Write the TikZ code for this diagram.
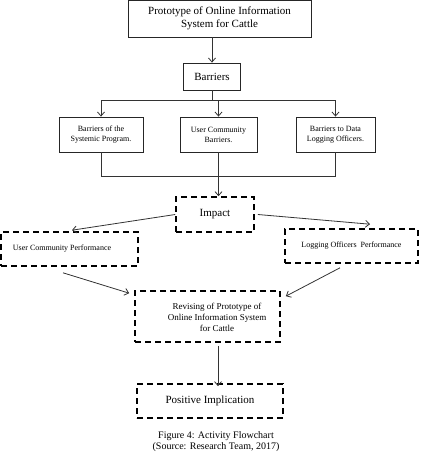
\documentclass[tikz,border=0pt]{standalone}
\usepackage{fontspec}
\setmainfont{Liberation Serif}
\usetikzlibrary{arrows.meta}
\begin{document}
\begin{tikzpicture}[x=1pt,y=-1pt,
  solidbox/.style={draw=black!85, line width=0.8pt, inner sep=0pt, align=center},
  dashbox/.style={draw=black, line width=1.6pt, dash pattern=on 6pt off 4pt, inner sep=0pt, align=center},
  plain/.style={inner sep=0pt, align=center},
  conn/.style={draw=black!80, line width=0.8pt},
  arr/.style={conn, -{Straight Barb[length=4pt,width=7pt]}},
  big/.style={font=\fontsize{11}{13}\selectfont},
  small/.style={font=\fontsize{8}{10}\selectfont},
  mid/.style={font=\fontsize{9}{10.7}\selectfont}]
\useasboundingbox (0,0) rectangle (424,460);

\node[solidbox, big, minimum width=183pt, minimum height=36.5pt] (top) at (219.5,18.75) {Prototype of Online Information\\System for Cattle};
\node[solidbox, big, minimum width=57pt, minimum height=27pt] (bar) at (212,76.5) {Barriers};
\coordinate (hl) at (212,100);
\node[solidbox, small, minimum width=84pt, minimum height=35pt] (b1) at (101,134.5) {Barriers of the\\Systemic Program.};
\node[solidbox, small, minimum width=77pt, minimum height=35pt] (b2) at (218.5,134.5) {User Community\\Barriers.};
\node[solidbox, small, minimum width=79pt, minimum height=35pt] (b3) at (335.5,134.5) {Barriers to Data\\Logging Officers.};

\node[dashbox, big, minimum width=78pt, minimum height=35pt] (imp) at (215,214.5) {Impact};
\node[dashbox, minimum width=137pt, minimum height=34pt] (ucp) at (69.5,249) {};
\node[plain, small] (ucpt) at (62,249) {User Community Performance};
\node[dashbox, small, minimum width=133pt, minimum height=34pt] (lop) at (351.5,246) {Logging Officers\ \ Performance};
\node[dashbox, minimum width=145pt, minimum height=51pt] (rev) at (207.5,316.5) {};
\node[plain, mid] (revt) at (217,317.5) {Revising of Prototype of\\Online Information System\\for Cattle};
\node[dashbox, big, minimum width=146pt, minimum height=34pt] (pos) at (210,401) {Positive Implication};
\node[plain, font=\fontsize{10}{11}\selectfont] (cap) at (216,441.5) {Figure 4: Activity Flowchart\\(Source: Research Team, 2017)};

\draw[arr] (top.south -| bar.north) -- (bar.north);
\draw[conn] (bar.south) -- (hl);
\draw[conn] (hl -| b1.north) -- (hl -| b3.north);
\draw[arr] (hl -| b1.north) -- (b1.north);
\draw[arr] (hl -| b2.north) -- (b2.north);
\draw[arr] (hl -| b3.north) -- (b3.north);
\draw[conn] (b1.south) -- ++(0,24) -| (b3.south);
\draw[arr] (b2.south) -- (b2.south |- imp.north);
\draw[arr] (imp.west) -- ([xshift=2.5pt,yshift=1pt]ucp.north);
\draw[arr] ([xshift=3pt]imp.east) -- ([xshift=18.5pt,yshift=4pt]lop.north);
\draw[arr] ([xshift=-6.5pt,yshift=-6pt]ucp.south) -- ([xshift=-5pt,yshift=-3pt]rev.north west);
\draw[arr] ([xshift=-11.5pt,yshift=-4pt]lop.south) -- ([xshift=5pt,yshift=-6pt]rev.north east);
\draw[arr] ([xshift=10.5pt,yshift=-3pt]rev.south) -- ([xshift=10.5pt,yshift=-3pt]rev.south |- pos.north);
\end{tikzpicture}
\end{document}
